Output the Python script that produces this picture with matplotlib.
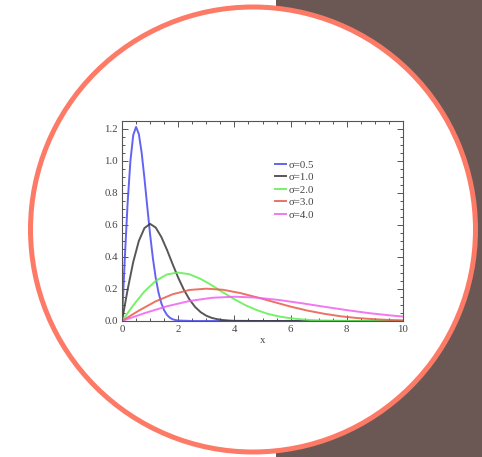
import matplotlib
matplotlib.use("Agg")
import matplotlib.pyplot as plt
from matplotlib.patches import Circle, Rectangle
from matplotlib.ticker import MultipleLocator

plt.rcParams['font.family'] = ['Liberation Serif', 'DejaVu Serif']

# ---- data ----
labels = ["σ=0.5", "σ=1.0", "σ=2.0", "σ=3.0", "σ=4.0"]
colors = ["#4848f0", "#3a3a3a", "#60ee50", "#e85a48", "#f060f0"]

x_s05 = [0, 0.1, 0.2, 0.3, 0.4, 0.5, 0.6, 0.7, 0.8, 0.9, 1.0, 1.1, 1.2, 1.3, 1.4,
         1.5, 1.6, 1.7, 1.8, 1.9, 2.0, 2.5, 10]
y_s05 = [0, 0.392, 0.738, 1.002, 1.162, 1.213, 1.168, 1.051, 0.890, 0.713, 0.541,
         0.391, 0.269, 0.177, 0.111, 0.067, 0.038, 0.021, 0.011, 0.006, 0.003, 0.0, 0.0]

x_s10 = [0, 0.2, 0.4, 0.6, 0.8, 1.0, 1.2, 1.4, 1.6, 1.8, 2.0, 2.2, 2.4, 2.6, 2.8,
         3.0, 3.2, 3.4, 3.6, 3.8, 4.0, 5.0, 10]
y_s10 = [0, 0.196, 0.369, 0.501, 0.581, 0.607, 0.584, 0.525, 0.445, 0.356, 0.271,
         0.196, 0.135, 0.088, 0.055, 0.033, 0.019, 0.011, 0.006, 0.003, 0.001, 0.0, 0.0]

x_s20 = [0, 0.4, 0.8, 1.2, 1.6, 2.0, 2.4, 2.8, 3.2, 3.6, 4.0, 4.4, 4.8, 5.2, 5.6,
         6.0, 6.4, 6.8, 7.2, 7.6, 8.0, 10]
y_s20 = [0, 0.098, 0.185, 0.251, 0.291, 0.303, 0.292, 0.263, 0.223, 0.178, 0.136,
         0.098, 0.068, 0.044, 0.028, 0.017, 0.010, 0.005, 0.003, 0.002, 0.001, 0.0]

x_s30 = [0, 0.6, 1.2, 1.8, 2.4, 3.0, 3.6, 4.2, 4.8, 5.4, 6.0, 6.6, 7.2, 7.8, 8.4,
         9.0, 9.6, 10]
y_s30 = [0, 0.065, 0.123, 0.167, 0.194, 0.202, 0.195, 0.175, 0.148, 0.119, 0.090,
         0.065, 0.045, 0.029, 0.018, 0.011, 0.006, 0.004]

x_s40 = [0, 0.8, 1.6, 2.4, 3.2, 4.0, 4.8, 5.6, 6.4, 7.2, 8.0, 8.8, 9.6, 10]
y_s40 = [0, 0.049, 0.092, 0.125, 0.145, 0.152, 0.146, 0.131, 0.111, 0.089, 0.068,
         0.049, 0.034, 0.028]

series_x = [x_s05, x_s10, x_s20, x_s30, x_s40]
series_y = [y_s05, y_s10, y_s20, y_s30, y_s40]

xticks = [0, 2, 4, 6, 8, 10]
yticks = [0.0, 0.2, 0.4, 0.6, 0.8, 1.0, 1.2]

W, H = 482, 457
fig = plt.figure(figsize=(W / 100, H / 100), dpi=100)
fig.patch.set_facecolor("white")

# background decoration
bg = fig.add_axes([0, 0, 1, 1])
bg.set_xlim(0, W)
bg.set_ylim(H, 0)
bg.axis("off")
bg.add_patch(Rectangle((276, 0), W - 276, H, facecolor="#6b5854", edgecolor="none"))
bg.add_patch(Circle((253, 229.5), 222.5, facecolor="white", edgecolor="#fd7a66", lw=3.6))

# chart
ax = fig.add_axes([122 / W, (H - 321) / H, 281 / W, 200 / H])
ax.set_facecolor("white")
for xs, ys, c, lab in zip(series_x, series_y, colors, labels):
    ax.plot(xs, ys, color=c, lw=1.4, label=lab, alpha=0.85)

ax.set_xlim(0, 10)
ax.set_ylim(0, 1.25)
ax.set_xticks(xticks)
ax.set_yticks(yticks)
ax.set_xticklabels([str(t) for t in xticks])
ax.set_yticklabels([f"{t:.1f}" for t in yticks])
ax.xaxis.set_minor_locator(MultipleLocator(0.5))
ax.yaxis.set_minor_locator(MultipleLocator(0.05))
ax.tick_params(which="both", direction="in", top=True, right=True, colors="#555555",
               labelcolor="#444444", labelsize=7.8, width=0.7)
ax.tick_params(which="major", length=4, pad=3)
ax.tick_params(which="minor", length=2)
for sp in ax.spines.values():
    sp.set_color("#555555")
    sp.set_linewidth(0.8)
ax.set_xlabel("x", fontsize=7.8, color="#444444", labelpad=1)

leg = ax.legend(loc="upper left", bbox_to_anchor=((275 - 122) / 281, (321 - 160) / 200),
                frameon=False, fontsize=7.8, borderpad=0, handlelength=1.0,
                handletextpad=0.25, labelspacing=0.27, borderaxespad=0)
for t in leg.get_texts():
    t.set_color("#444444")

fig.savefig("out.png", dpi=100)
